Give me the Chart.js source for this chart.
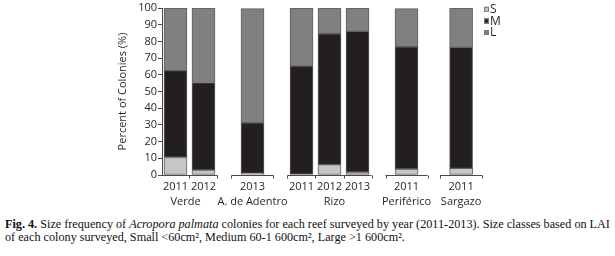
<!DOCTYPE html>
<html><head><meta charset="utf-8">
<script src="https://cdn.jsdelivr.net/npm/chart.js@4.4.0/dist/chart.umd.min.js"></script>
<style>
html,body{margin:0;padding:0;background:#fff;}
#wrap{position:relative;width:615px;height:256px;overflow:hidden;background:#fff}
#c{position:absolute;left:0;top:0}
#cap{position:absolute;left:5px;top:218px;font-family:'Liberation Serif','Times New Roman',serif;font-size:12.2px;line-height:12.8px;color:#111;white-space:nowrap}
</style></head><body>
<div id="wrap"><canvas id="c" width="615" height="212"></canvas>
<div id="cap"><b>Fig. 4.</b> Size frequency of <i>Acropora palmata</i> colonies for each reef surveyed by year (2011-2013). Size classes based on LAI<br>of each colony surveyed, Small &lt;60cm², Medium 60-1 600cm², Large &gt;1 600cm².</div></div>
<script>
// ---- data ----
const reefs  = ['Verde','Verde','A. de Adentro','Rizo','Rizo','Rizo','Periférico','Sargazo'];
const years  = ['2011','2012','2013','2011','2012','2013','2011','2011'];
const small  = [10.5, 3.0, 1.0, 0.0, 6.2, 1.8, 3.6, 4.0];
const medium = [52.0, 52.4, 30.2, 65.2, 78.4, 84.2, 73.2, 72.4];
const large  = [37.5, 44.6, 68.4, 34.8, 15.4, 14.0, 22.8, 23.6];
const sizeClasses = ['S','M','L'];
const yTickValues = [0,10,20,30,40,50,60,70,80,90,100];

// ---- layout ----
const GROUP_GAP = {'A. de Adentro':1.75,'Rizo':1.75,'Periférico':1.75,'Sargazo':1.95};
const NAME_NUDGE = {'Verde':-4,'Rizo':5};
const FONT = "'Open Sans', 'Noto Sans', sans-serif";
const TXT = '#231f20';
const LINE = '#4a4a4a';
let acc = 0;
const slots = reefs.map((r,i)=>{ if(i>0) acc += (r===reefs[i-1]) ? 1 : GROUP_GAP[r]; return acc; });
const groups = [];
reefs.forEach((r,i)=>{
  if(i===0 || r!==reefs[i-1]) groups.push({name:r, idx:[i]}); else groups[groups.length-1].idx.push(i);
});

const colors = ['#c6c6c6','#231f20','#808080'];
const series = [small, medium, large];
const datasets = series.map((vals,k)=>({
  label: sizeClasses[k],
  data: slots.map((x,i)=>({x:x, y:vals[i]})),
  backgroundColor: colors[k],
  borderColor: '#5e5e5e',
  borderWidth: 1,
  borderSkipped: false,
  barThickness: 23
}));

const axisPlugin = {
  id:'axisDeco',
  afterDraw(chart){
    const ctx = chart.ctx, xs = chart.scales.x, ca = chart.chartArea;
    const y0 = Math.round(ca.bottom)+0.5;
    ctx.save();
    ctx.strokeStyle = LINE; ctx.lineWidth = 1;
    groups.forEach(g=>{
      const first = slots[g.idx[0]], last = slots[g.idx[g.idx.length-1]];
      const half = g.idx.length===1 ? 0.75 : 0.5;
      let a = xs.getPixelForValue(first-half), b = xs.getPixelForValue(last+half);
      a = Math.max(a, ca.left);
      ctx.beginPath(); ctx.moveTo(a, y0); ctx.lineTo(b, y0); ctx.stroke();
      const ticks = [];
      if (a > ca.left+1) ticks.push(a);
      for (let j=1;j<g.idx.length;j++) ticks.push(xs.getPixelForValue((slots[g.idx[j-1]]+slots[g.idx[j]])/2));
      ticks.push(b);
      ticks.forEach(t=>{ const tx=Math.round(t)+0.5; ctx.beginPath(); ctx.moveTo(tx,y0); ctx.lineTo(tx,y0+3); ctx.stroke(); });
    });
    ctx.fillStyle = TXT; ctx.textAlign='center'; ctx.textBaseline='middle';
    ctx.font = '11px ' + FONT;
    slots.forEach((s,i)=>{ ctx.fillText(years[i], xs.getPixelForValue(s), 186.5); });
    groups.forEach(g=>{
      const xs0 = g.idx.map(i=>xs.getPixelForValue(slots[i]));
      const cx = xs0.reduce((p,q)=>p+q,0)/xs0.length + (NAME_NUDGE[g.name]||0);
      ctx.fillText(g.name, cx, 201.5);
    });
    // legend
    ctx.textAlign='left';
    const ly = [9.3, 21, 32.5];
    chart.data.datasets.forEach((d,k)=>{
      ctx.fillStyle = d.backgroundColor;
      ctx.fillRect(484, ly[k]-2.5, 5, 5);
      ctx.strokeStyle = '#777';
      ctx.strokeRect(484.5, ly[k]-2, 4, 4);
      ctx.fillStyle = TXT;
      ctx.font = '12px ' + FONT;
      ctx.fillText(d.label, 490, ly[k]+0.5);
    });
    ctx.restore();
  }
};

new Chart(document.getElementById('c'), {
  type:'bar',
  data:{datasets},
  options:{
    responsive:false, animation:false,
    layout:{padding:{left:111, right:125, top:8, bottom:37}},
    plugins:{legend:{display:false}, tooltip:{enabled:false}},
    scales:{
      x:{type:'linear', stacked:true, offset:false, min:-0.482, max:11.232, display:false},
      y:{stacked:true, min:0, max:100,
        afterBuildTicks(s){ s.ticks = yTickValues.map(v=>({value:v})); },
        afterFit(s){ s.width = 51; },
        ticks:{font:{family:FONT, size:11}, color:TXT, padding:1},
        grid:{drawOnChartArea:false, drawTicks:true, tickLength:4, color:LINE},
        border:{display:true, color:LINE, width:1},
        title:{display:true, text:'Percent of Colonies (%)', color:TXT, font:{family:FONT, size:11}, padding:{top:5,bottom:0}}
      }
    }
  },
  plugins:[axisPlugin]
});
</script>
</body></html>
